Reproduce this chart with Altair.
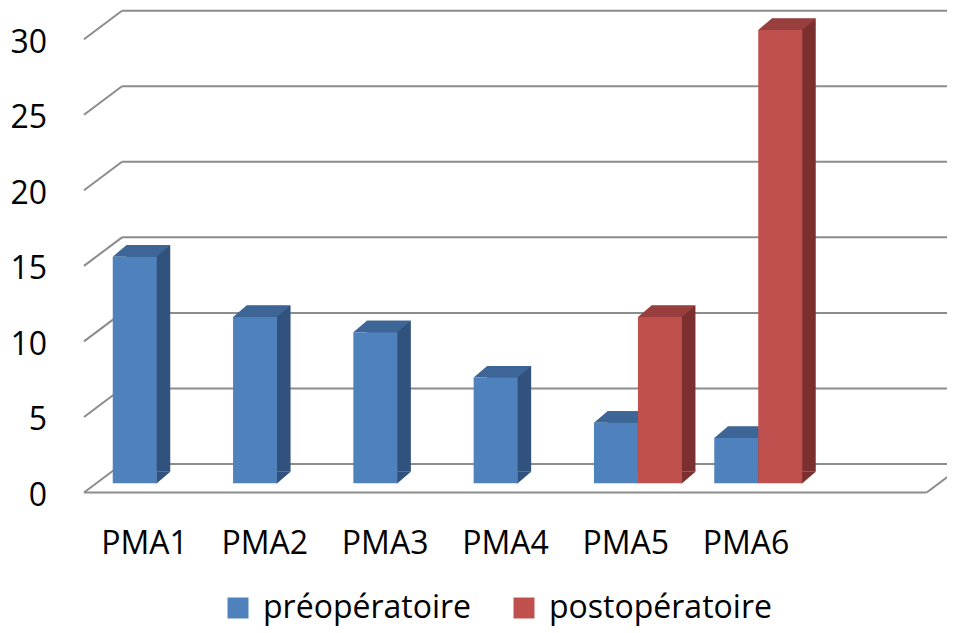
import altair as alt
import pandas as pd

# ---- data ----
categories = ["PMA1", "PMA2", "PMA3", "PMA4", "PMA5", "PMA6"]
preop = [15, 11, 10, 7, 4, 3]
postop = [None, None, None, None, 11, 30]
series_names = ["préopératoire", "postopératoire"]
y_ticks = [0, 5, 10, 15, 20, 25, 30]

rows = []
for c, a, b in zip(categories, preop, postop):
    if a is not None:
        rows.append({"cat": c, "series": series_names[0], "value": a})
    if b is not None:
        rows.append({"cat": c, "series": series_names[1], "value": b})
df = pd.DataFrame(rows)
grid = pd.DataFrame({"v": y_ticks, "label": [str(t) for t in y_ticks]})
floor = pd.DataFrame({"v": [0]})

# ---- styling ----
FONT = "Open Sans"
GRID = "#8c8c8c"
front_colors = ["#4f81bd", "#c0504d"]
top_colors = ["#3d6596", "#983e3c"]
side_colors = ["#30527c", "#7b302f"]
BW = 44          # bar width
DX, DY = 13.5, 11.5   # bar depth
FRONT_DY, BACK_DY = 9.2, -19.3
shifts = [-BW / 2, BW / 2]

xs = alt.Scale(domain=categories, range=[88.6, 810.4], paddingInner=0, paddingOuter=0)
ys = alt.Scale(domain=[0, 30], range=[475.3, 22], nice=False, zero=False)
X = alt.X("cat:N", scale=xs, axis=None, sort=categories)
Y = alt.Y("value:Q", scale=ys, axis=None)

layers = []

# gridlines (perspective walls)
layers.append(
    alt.Chart(grid).mark_rule(color=GRID, strokeWidth=2, yOffset=FRONT_DY, y2Offset=BACK_DY)
    .encode(x=alt.value(76), x2=alt.value(114),
            y=alt.Y("v:Q", scale=ys, axis=None), y2="v:Q")
)
layers.append(
    alt.Chart(grid).mark_rule(color=GRID, strokeWidth=2, yOffset=BACK_DY)
    .encode(x=alt.value(114), x2=alt.value(960), y=alt.Y("v:Q", scale=ys, axis=None))
)
layers.append(
    alt.Chart(floor).mark_rule(color=GRID, strokeWidth=2, yOffset=FRONT_DY)
    .encode(x=alt.value(76), x2=alt.value(918.7), y=alt.Y("v:Q", scale=ys, axis=None))
)
layers.append(
    alt.Chart(floor).mark_rule(color=GRID, strokeWidth=2, yOffset=FRONT_DY, y2Offset=BACK_DY)
    .encode(x=alt.value(918.7), x2=alt.value(956.4),
            y=alt.Y("v:Q", scale=ys, axis=None), y2="v:Q")
)

top_path = f"M{-BW/2},0 L{BW/2},0 L{BW/2+DX},{-DY} L{-BW/2+DX},{-DY} Z"
bottom_path = f"M{BW/2-0.5},0.5 L{BW/2-0.5},{-DY} L{BW/2+DX},{-DY} Z"

sides, tops, bottoms, fronts = [], [], [], []
for i, s in enumerate(series_names):
    base = alt.Chart(df).transform_filter(alt.datum.series == s)
    sides.append(
        base.mark_bar(width=BW, color=side_colors[i], xOffset=shifts[i] + DX,
                      yOffset=-DY, y2Offset=-DY)
        .encode(x=X, y=Y, y2=alt.datum(0))
    )
    tops.append(
        base.mark_point(shape=top_path, size=4, filled=True, color=top_colors[i],
                        opacity=1, strokeWidth=0, xOffset=shifts[i])
        .encode(x=X, y=Y)
    )
    bottoms.append(
        base.mark_point(shape=bottom_path, size=4, filled=True, color=side_colors[i],
                        opacity=1, strokeWidth=0, xOffset=shifts[i])
        .encode(x=X, y=alt.Y(datum=0, scale=ys, axis=None))
    )
    fronts.append(
        base.mark_bar(width=BW, xOffset=shifts[i])
        .encode(
            x=X, y=Y, y2=alt.datum(0),
            color=alt.Color(
                "series:N",
                scale=alt.Scale(domain=series_names, range=front_colors),
                legend=alt.Legend(
                    orient="none", legendX=214, legendY=584, direction="horizontal",
                    title=None, symbolType="square", symbolSize=441,
                    symbolStrokeWidth=0, symbolOpacity=1,
                    labelFontSize=32, labelFont=FONT, labelColor="black",
                    labelOffset=9, labelLimit=1000, columnPadding=36, padding=0,
                ),
            ),
        )
    )
layers += sides + tops + bottoms + fronts

# y labels
layers.append(
    alt.Chart(grid).mark_text(align="right", baseline="alphabetic", fontSize=32,
                              font=FONT, color="black", yOffset=22.5)
    .encode(x=alt.value(39), y=alt.Y("v:Q", scale=ys, axis=None), text="label:N")
)
# x labels
cat_df = pd.DataFrame({"cat": categories})
layers.append(
    alt.Chart(cat_df).mark_text(align="center", baseline="alphabetic", fontSize=32,
                                font=FONT, color="black", xOffset=-12.2)
    .encode(x=X, y=alt.value(546), text="cat:N")
)

chart = alt.layer(*layers).properties(
    width=939, height=622, autosize=alt.AutoSizeParams(type="none"), padding=0
).configure_view(stroke=None)

chart.save("out.html", embed_options={"renderer": "svg", "actions": False})
